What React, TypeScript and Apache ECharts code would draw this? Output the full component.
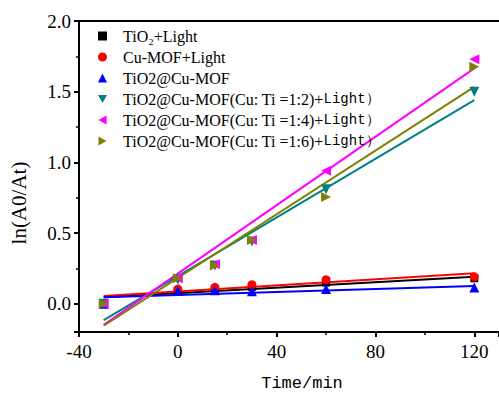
import React, { useEffect, useRef } from "react";
import * as echarts from "echarts";

const timeMin = [-30, 0, 15, 30, 60, 120];
const seriesNames = [
  "TiO₂+Light",
  "Cu-MOF+Light",
  "TiO2@Cu-MOF",
  "TiO2@Cu-MOF(Cu: Ti =1:2)+Light）",
  "TiO2@Cu-MOF(Cu: Ti =1:4)+Light）",
  "TiO2@Cu-MOF(Cu: Ti =1:6)+Light）",
];
const tio2Light = [0, 0.09, 0.1, 0.12, 0.15, 0.18];
const cuMofLight = [0, 0.104, 0.116, 0.135, 0.17, 0.19];
const tio2CuMof = [0, 0.09, 0.095, 0.088, 0.104, 0.115];
const ratio12 = [0, 0.17, 0.27, 0.44, 0.81, 1.5];
const ratio14 = [0, 0.18, 0.28, 0.45, 0.94, 1.73];
const ratio16 = [0, 0.18, 0.27, 0.45, 0.755, 1.676];
// fitted lines: value at start (-30) and end (120)
const fitX = [-30, 120];
const fitTio2 = [0.045, 0.19];
const fitCuMof = [0.055, 0.215];
const fitTio2CuMof = [0.045, 0.125];
const fit12 = [-0.116, 1.44];
const fit14 = [-0.15, 1.665];
const fit16 = [-0.156, 1.534];

const colors = ["#000000", "#ff0000", "#0000ff", "#008080", "#ff00ff", "#808000"];
const symbols = ["rect", "circle", "triangle", "triangle", "triangle", "triangle"];
const rotations = [0, 0, 0, 180, 90, -90];
const legendIcons = [
  "rect",
  "circle",
  "triangle",
  "path://M0,0L10,0L5,9Z",
  "path://M9,0L9,10L0,5Z",
  "path://M0,0L0,10L9,5Z",
];
const symSizes = [8, 9, 10, 10, 10, 10];
const values = [tio2Light, cuMofLight, tio2CuMof, ratio12, ratio14, ratio16];
const fits = [fitTio2, fitCuMof, fitTio2CuMof, fit12, fit14, fit16];

const SERIF = "'Liberation Serif', 'Times New Roman', serif";
const MONO = "'Liberation Mono', monospace";

export default function App() {
  const ref = useRef<HTMLDivElement>(null);
  useEffect(() => {
    if (!ref.current) return;
    const chart = echarts.init(ref.current, null, { renderer: "svg" });
    const series: any[] = [];
    fits.forEach((f, i) => {
      series.push({
        type: "line",
        name: "fit" + i,
        data: fitX.map((x, k) => [x, f[k]]),
        showSymbol: false,
        silent: true,
        lineStyle: { color: colors[i], width: 2 },
        z: 2,
      });
    });
    values.forEach((v, i) => {
      series.push({
        type: "scatter",
        name: seriesNames[i],
        data: timeMin.map((x, k) => [x, v[k]]),
        symbol: symbols[i],
        symbolRotate: rotations[i],
        symbolSize: symSizes[i],
        itemStyle: { color: colors[i], opacity: 1 },
        z: 3,
      });
    });
    chart.setOption({
      animation: false,
      grid: { left: 79, top: 21, right: 0, bottom: 64 },
      legend: {
        data: seriesNames.map((n, i) => ({ name: n, icon: legendIcons[i] })),
        orient: "vertical",
        left: 93,
        top: 23,
        itemWidth: 9,
        itemHeight: 9,
        itemGap: 5,
        selectedMode: false,
        symbolRotate: 0,
        itemStyle: { opacity: 1 },
        textStyle: {
          fontFamily: SERIF,
          fontSize: 16,
          color: "#000",
          padding: [0, 0, 0, 11],
          rich: {
            a: { fontFamily: SERIF, fontSize: 16, color: "#000" },
            b: { fontFamily: MONO, fontSize: 14, color: "#000" },
          },
        },
        formatter: (name: string) => {
          const idx = name.lastIndexOf("Light）");
          if (idx > 0 && name.indexOf("(") > 0) {
            return "{a|" + name.slice(0, idx) + "}{b|Light）}";
          }
          return "{a|" + name + "}";
        },
      },
      xAxis: [
        {
          type: "value",
          min: -40,
          max: 130,
          interval: 40,
          splitLine: { show: false },
          axisLine: { onZero: false, lineStyle: { color: "#000", width: 2 } },
          axisTick: { inside: false, length: 5, lineStyle: { color: "#000", width: 2 } },
          minorTick: { show: true, splitNumber: 2, length: 3, lineStyle: { color: "#000", width: 1.5 } },
          axisLabel: { showMaxLabel: false, margin: 10, fontFamily: SERIF, fontSize: 19, color: "#000" },
        },
        {
          type: "value",
          position: "top",
          min: -40,
          max: 130,
          splitLine: { show: false },
          axisLine: { show: true, onZero: false, lineStyle: { color: "#000", width: 2 } },
          axisTick: { show: false },
          axisLabel: { show: false },
        },
      ],
      yAxis: {
        type: "value",
        min: -0.2,
        max: 2.0,
        splitLine: { show: false },
        axisLine: { show: true, onZero: false, lineStyle: { color: "#000", width: 2 } },
        axisTick: { inside: false, length: 5, lineStyle: { color: "#000", width: 2 } },
        minorTick: { show: true, splitNumber: 2, length: 3, lineStyle: { color: "#000", width: 1.5 } },
        axisLabel: {
          showMinLabel: false,
          margin: 8,
          fontFamily: SERIF,
          fontSize: 19,
          color: "#000",
          formatter: (v: number) => v.toFixed(1),
        },
      },
      graphic: [
        {
          type: "text",
          x: 19,
          y: 203,
          rotation: Math.PI / 2,
          style: {
            text: "ln(A0/At)",
            fontFamily: SERIF,
            fontSize: 21,
            fill: "#000",
            align: "center",
            verticalAlign: "middle",
          },
        },
        {
          type: "text",
          x: 302,
          y: 383,
          style: {
            text: "Time/min",
            fontFamily: MONO,
            fontSize: 17,
            fill: "#000",
            align: "center",
            verticalAlign: "middle",
          },
        },
      ],
      series,
    } as any);
    return () => chart.dispose();
  }, []);
  return (
    <div
      ref={ref}
      style={{ position: "absolute", left: 0, top: 0, width: 499, height: 396, background: "#fff" }}
    />
  );
}
